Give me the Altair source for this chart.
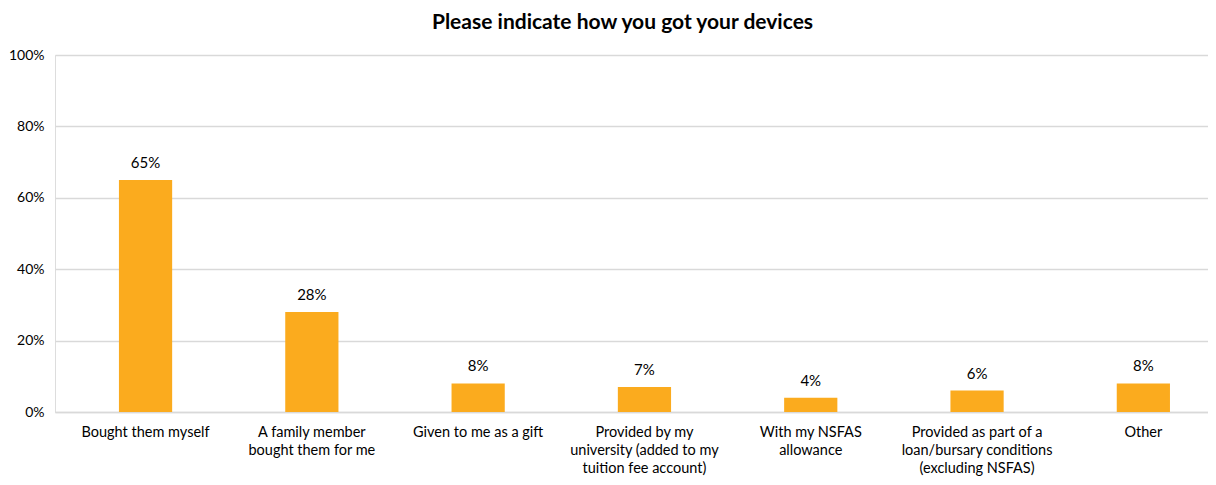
import altair as alt
import pandas as pd

categories = [
    "Bought them myself",
    "A family member\nbought them for me",
    "Given to me as a gift",
    "Provided by my\nuniversity (added to my\ntuition fee account)",
    "With my NSFAS\nallowance",
    "Provided as part of a\nloan/bursary conditions\n(excluding NSFAS)",
    "Other",
]
values = [65, 28, 8, 7, 4, 6, 8]
value_labels = ["65%", "28%", "8%", "7%", "4%", "6%", "8%"]
y_ticks = [0, 20, 40, 60, 80, 100]

df = pd.DataFrame({"cat": categories, "val": values, "lab": value_labels})

FONT = "Lato"

x = alt.X(
    "cat:N",
    sort=categories,
    title=None,
    scale=alt.Scale(paddingInner=0.68, paddingOuter=0.3066, align=0.627),
    axis=alt.Axis(
        labelExpr="split(datum.label, '\\n')",
        labelAngle=0,
        labelFont=FONT,
        labelFontSize=14.5,
        labelColor="#000000",
        labelLineHeight=18,
        labelPadding=13,
        labelBaseline="top",
        ticks=False,
        domain=True,
        domainColor="#d9d9d9",
        domainWidth=1.5,
        grid=False,
    ),
)

y = alt.Y(
    "val:Q",
    title=None,
    scale=alt.Scale(domain=[0, 100], nice=False),
    axis=alt.Axis(
        values=y_ticks,
        labelExpr="datum.value + '%'",
        labelFont=FONT,
        labelFontSize=14,
        labelColor="#000000",
        labelPadding=11,
        ticks=False,
        domain=False,
        gridColor="#d9d9d9",
        gridWidth=1.5,
    ),
)

bars = alt.Chart(df).mark_bar(color="#FBAB1E").encode(x=x, y=y)
texts = alt.Chart(df).mark_text(
    font=FONT, fontSize=15, color="#000000", baseline="bottom", dy=-9
).encode(x=alt.X("cat:N", sort=categories), y="val:Q", text="lab:N")

chart = (
    alt.layer(bars, texts)
    .properties(
        width=1153,
        height=357,
        autosize=alt.AutoSizeParams(type="none"),
        padding={"left": 47, "top": 47, "right": 0, "bottom": 65},
        title=alt.TitleParams(
            "Please indicate how you got your devices",
            font=FONT,
            fontSize=21,
            fontWeight="bold",
            color="#000000",
            anchor="middle",
            offset=15,
            dx=-9,
        ),
    )
    .configure_view(stroke="transparent", strokeWidth=0)
    .configure(background="white")
)

chart.save("out.html", embed_options={"renderer": "svg", "actions": False})
